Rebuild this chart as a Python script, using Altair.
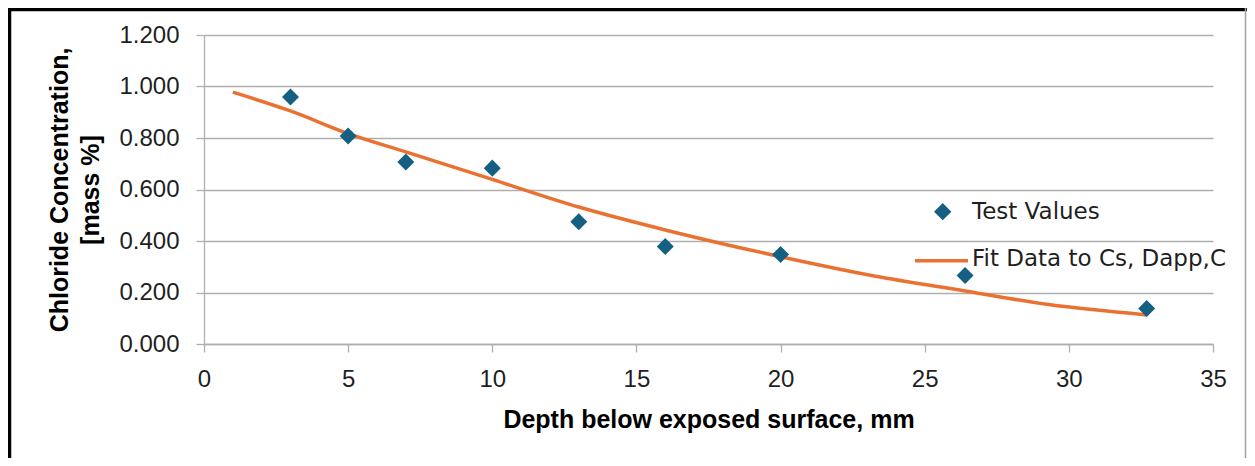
import altair as alt
import pandas as pd

# ---- data ----
test_depth = [3, 5, 7, 10, 13, 16, 20, 26.4, 32.7]
test_conc = [0.959, 0.808, 0.707, 0.683, 0.475, 0.379, 0.348, 0.266, 0.138]

fit_depth = [1, 3, 5, 7, 10, 13, 16, 20, 23.5, 26.4, 29.3, 32.7]
fit_conc = [0.978, 0.905, 0.817, 0.746, 0.639, 0.532, 0.443, 0.339, 0.259, 0.206, 0.153, 0.113]

x_ticks = [0, 5, 10, 15, 20, 25, 30, 35]
y_ticks = [0.0, 0.2, 0.4, 0.6, 0.8, 1.0, 1.2]
legend_labels = ["Test Values", "Fit Data to Cs, Dapp,C"]
x_title = "Depth below exposed surface, mm"
y_title = ["Chloride Concentration,", "[mass %]"]

# ---- styling ----
W, H = 1009, 309
PAD = {"left": 196, "top": 27, "right": 34, "bottom": 114}
BLUE = "#156082"
ORANGE = "#E97132"
GRID = "#b0b0b0"
TXT = "#1f1f1f"
AX_FONT = "Liberation Sans"
LEG_FONT = "DejaVu Sans"

test_df = pd.DataFrame({"depth": test_depth, "conc": test_conc})
fit_df = pd.DataFrame({"depth": fit_depth, "conc": fit_conc})
one = pd.DataFrame({"k": [0]})

x_enc = alt.X(
    "depth:Q",
    scale=alt.Scale(domain=[0, 35], nice=False, zero=False),
    axis=alt.Axis(
        values=x_ticks, title=x_title, grid=False,
        tickSize=8, tickColor=GRID, tickWidth=1.3, domainColor=GRID, domainWidth=1.3,
        labelFont=AX_FONT, labelFontSize=24, labelColor=TXT, labelPadding=15,
        labelFlush=False,
        titleFont=AX_FONT, titleFontSize=25, titleFontWeight="bold", titleColor="#000000",
        titlePadding=16,
    ),
)
y_enc = alt.Y(
    "conc:Q",
    scale=alt.Scale(domain=[0, 1.2], nice=False),
    axis=alt.Axis(
        values=y_ticks, format=".3f", title=y_title, grid=True,
        gridColor=GRID, gridWidth=1.3,
        tickSize=8, tickColor=GRID, tickWidth=1.3, domainColor=GRID, domainWidth=1.3,
        labelFont=AX_FONT, labelFontSize=24, labelColor=TXT, labelPadding=17,
        labelFlush=False,
        titleFont=AX_FONT, titleFontSize=25, titleFontWeight="bold", titleColor="#000000",
        titlePadding=15, titleLineHeight=31,
    ),
)

fit_line = alt.Chart(fit_df).mark_line(
    color=ORANGE, strokeWidth=3.5, interpolate="monotone"
).encode(x=x_enc, y=y_enc)

points = alt.Chart(test_df).mark_point(
    shape="diamond", filled=True, size=290, color=BLUE, opacity=1
).encode(x=x_enc, y=y_enc)

# ---- legend (drawn inside the plot area) ----
leg_diamond = alt.Chart(one).mark_point(
    shape="diamond", filled=True, size=300, color=BLUE, opacity=1
).encode(x=alt.value(738.7), y=alt.value(176.7))
leg_text1 = alt.Chart(pd.DataFrame({"label": [legend_labels[0]]})).mark_text(
    align="left", baseline="middle", font=LEG_FONT, fontSize=23, color=TXT
).encode(text="label:N", x=alt.value(768), y=alt.value(177))
leg_line = alt.Chart(one).mark_rule(color=ORANGE, strokeWidth=3.5).encode(
    x=alt.value(711), x2=alt.value(764), y=alt.value(225.7)
)
leg_text2 = alt.Chart(pd.DataFrame({"label": [legend_labels[1]]})).mark_text(
    align="left", baseline="middle", font=LEG_FONT, fontSize=23, color=TXT
).encode(text="label:N", x=alt.value(768), y=alt.value(224))

# ---- outer frame ----
frame_top = alt.Chart(one).mark_rule(color="#000000", strokeWidth=3.5).encode(
    x=alt.value(-196), x2=alt.value(1043), y=alt.value(-25.5)
)
frame_left = alt.Chart(one).mark_rule(color="#000000", strokeWidth=3.5).encode(
    x=alt.value(-194.5), y=alt.value(-27), y2=alt.value(H + PAD["bottom"])
)
frame_right = alt.Chart(one).mark_rule(color="#a0a0a0", strokeWidth=1.5).encode(
    x=alt.value(1041.5), y=alt.value(-27), y2=alt.value(H + PAD["bottom"])
)

chart = alt.layer(
    fit_line, points, leg_diamond, leg_text1, leg_line, leg_text2,
    frame_top, frame_left, frame_right,
).properties(
    width=W, height=H,
    autosize=alt.AutoSizeParams(type="none"),
    padding=PAD,
    background="white",
).configure_view(stroke=None)

chart.save("out.html", embed_options={"renderer": "svg", "actions": False})
